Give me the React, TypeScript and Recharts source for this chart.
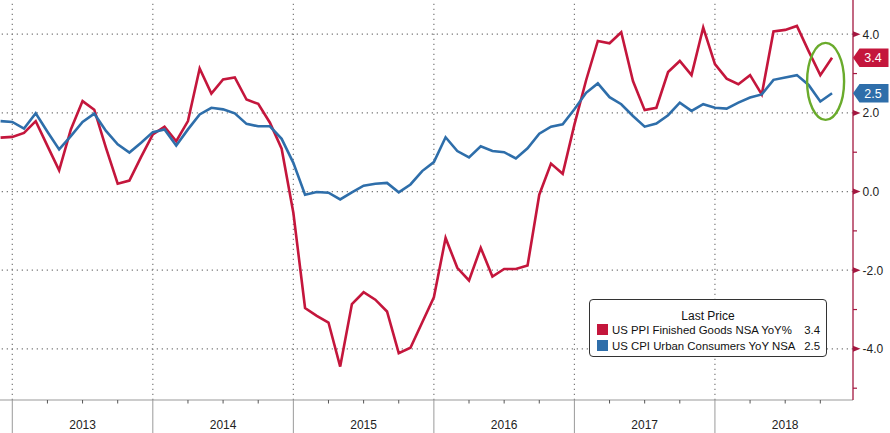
import React from 'react';
import { LineChart, Line, XAxis, YAxis, ReferenceLine, ReferenceDot, Legend } from 'recharts';

// Monthly observations plotted at month end; index 0 = Dec 2012, first point = Nov 2012
const FIRST_MONTH = -1;

const ppiValues = [
  1.37, 1.39, 1.49, 1.79, 1.16, 0.54, 1.58, 2.30, 2.08, 1.11, 0.20, 0.28, 0.88,
  1.45, 1.65, 1.28, 1.79, 3.13, 2.49, 2.85, 2.90, 2.34, 2.23, 1.75, 1.09,
  -0.54, -2.96, -3.16, -3.33, -4.45, -2.86, -2.56, -2.75, -3.05, -4.11, -3.97, -3.33,
  -2.69, -1.18, -1.94, -2.26, -1.43, -2.16, -1.97, -1.97, -1.88, -0.08, 0.71, 0.45,
  1.70, 2.83, 3.83, 3.77, 4.05, 2.81, 2.07, 2.13, 3.04, 3.32, 2.96, 4.17,
  3.24, 2.87, 2.73, 2.96, 2.47, 4.07, 4.11, 4.21, 3.57, 2.96, 3.40,
];

const cpiValues = [
  1.79, 1.77, 1.60, 1.99, 1.52, 1.07, 1.41, 1.77, 1.98, 1.54, 1.20, 0.99, 1.24,
  1.51, 1.58, 1.17, 1.58, 1.96, 2.13, 2.09, 1.99, 1.72, 1.66, 1.66, 1.34,
  0.73, -0.08, -0.01, -0.03, -0.20, -0.02, 0.15, 0.20, 0.22, -0.02, 0.18, 0.52,
  0.75, 1.38, 1.03, 0.87, 1.15, 1.03, 1.00, 0.84, 1.10, 1.47, 1.65, 1.71,
  2.09, 2.51, 2.75, 2.40, 2.22, 1.92, 1.65, 1.73, 1.94, 2.26, 2.05, 2.22,
  2.13, 2.11, 2.26, 2.39, 2.47, 2.84, 2.90, 2.96, 2.71, 2.29, 2.50,
];

const seriesNames = ['US PPI Finished Goods NSA YoY%', 'US CPI Urban Consumers YoY NSA'];
const lastPrices = [3.4, 2.5];
const yearLabels = ['2013', '2014', '2015', '2016', '2017', '2018'];
const quarterTicks = [0, 3, 6, 9, 12, 15, 18, 21, 24, 27, 30, 33, 36, 39, 42, 45, 48, 51, 54, 57, 60, 63, 66, 69];
const yearStarts = [0, 12, 24, 36, 48, 60];
const yTicks = [-5, -4, -3, -2, -1, 0, 1, 2, 3, 4];
const yGrid = [-4, -2, 0, 2, 4];

const X_DOMAIN: [number, number] = [-1.05, 71.79];
const Y_DOMAIN: [number, number] = [-5.3, 4.87];

const RED = '#c4163c';
const BLUE = '#2e6eaa';
const AXIS_RED = '#a3173f';
const GREEN = '#6aab2c';
const FONT = '"Liberation Sans", Arial, sans-serif';

const data = ppiValues.map((v, i) => ({ m: FIRST_MONTH + i, ppi: v, cpi: cpiValues[i] }));

const XTick = (props: any) => {
  const { x, y, payload } = props;
  const m = payload.value as number;
  if (m % 12 === 0) {
    return <line x1={x} y1={y} x2={x} y2={y + 33} stroke="#9a9a9a" strokeWidth={1} />;
  }
  return (
    <g>
      <line x1={x} y1={y} x2={x} y2={y + 3.5} stroke="#555" strokeWidth={1} />
      {m % 12 === 6 && (
        <text x={x} y={y + 29} textAnchor="middle" fontFamily={FONT} fontSize={12} fill="#222">
          {yearLabels[(m - 6) / 12]}
        </text>
      )}
    </g>
  );
};

const YTick = (props: any) => {
  const { x, y, payload } = props;
  const v = payload.value as number;
  if (v % 2 !== 0) {
    return <line x1={x} y1={y} x2={x + 4} y2={y} stroke={AXIS_RED} strokeWidth={1.2} />;
  }
  return (
    <g>
      <polygon points={`${x},${y - 3} ${x + 7.5},${y} ${x},${y + 3}`} fill={AXIS_RED} />
      <text x={x + 9.5} y={y + 4.3} fontFamily={FONT} fontSize={12} fill="#222">
        {v.toFixed(1)}
      </text>
    </g>
  );
};

const makeFlag = (color: string, label: string) => (props: any) => {
  const { cx, cy } = props;
  const h = 9.3;
  return (
    <g>
      <polygon
        points={`${cx},${cy} ${cx + 6.5},${cy - h} ${cx + 35.5},${cy - h} ${cx + 35.5},${cy + h} ${cx + 6.5},${cy + h}`}
        fill={color}
      />
      <text x={cx + 20} y={cy + 4.5} textAnchor="middle" fontFamily={FONT} fontSize={12.5} fill="#fff">
        {label}
      </text>
    </g>
  );
};

const EllipseShape = (props: any) => {
  const { cx, cy } = props;
  return <ellipse cx={cx} cy={cy} rx={18.5} ry={38.5} fill="none" stroke={GREEN} strokeWidth={2.4} />;
};

const LegendBox = () => {
  const colors = [RED, BLUE];
  return (
    <div
      style={{
        position: 'relative',
        width: 238,
        height: 58,
        boxSizing: 'border-box',
        border: '1px solid #333',
        borderRadius: 4,
        background: '#fff',
        fontFamily: FONT,
        fontSize: 11.4,
        color: '#111',
      }}
    >
      <div style={{ position: 'absolute', top: 9, left: 0, width: '100%', textAlign: 'center', fontSize: 12 }}>
        Last Price
      </div>
      {seriesNames.map((name, i) => (
        <div key={name} style={{ position: 'absolute', left: 0, top: 23 + i * 16, width: '100%', height: 14 }}>
          <div style={{ position: 'absolute', left: 7, top: 1, width: 11, height: 11, background: colors[i] }} />
          <div style={{ position: 'absolute', left: 22, top: 0, lineHeight: '14px', whiteSpace: 'nowrap' }}>{name}</div>
          <div style={{ position: 'absolute', right: 6, top: 0, lineHeight: '14px' }}>{lastPrices[i].toFixed(1)}</div>
        </div>
      ))}
    </div>
  );
};

export default function App() {
  return (
    <div style={{ position: 'absolute', left: 0, top: 0, width: 890, height: 433, background: '#fff' }}>
      <LineChart width={890} height={433} data={data} margin={{ top: 0, right: 0, bottom: 0, left: 0 }}>
        <XAxis
          dataKey="m"
          type="number"
          domain={X_DOMAIN}
          allowDataOverflow
          ticks={quarterTicks}
          interval={0}
          height={33}
          tickSize={0}
          tickMargin={0}
          tickLine={false}
          axisLine={{ stroke: '#999', strokeWidth: 1 }}
          tick={<XTick />}
        />
        <YAxis
          orientation="right"
          type="number"
          domain={Y_DOMAIN}
          allowDataOverflow
          ticks={yTicks}
          interval={0}
          width={37}
          tickSize={0}
          tickMargin={0}
          tickLine={false}
          axisLine={{ stroke: AXIS_RED, strokeWidth: 1.3 }}
          tick={<YTick />}
        />
        {yGrid.map((v) => (
          <ReferenceLine key={`h${v}`} y={v} stroke="#7a7a7a" strokeWidth={1.2} strokeDasharray="1.3 3.7" />
        ))}
        {yearStarts.map((v) => (
          <ReferenceLine key={`v${v}`} x={v} stroke="#7a7a7a" strokeWidth={1.2} strokeDasharray="1.3 3.7" />
        ))}
        <Line type="linear" dataKey="ppi" stroke={RED} strokeWidth={2.6} dot={false} activeDot={false} legendType="none" isAnimationActive={false} />
        <Line type="linear" dataKey="cpi" stroke={BLUE} strokeWidth={2.6} dot={false} activeDot={false} legendType="none" isAnimationActive={false} />
        <ReferenceDot x={69.45} y={2.8} ifOverflow="visible" shape={<EllipseShape />} />
        <ReferenceDot x={X_DOMAIN[1]} y={lastPrices[0]} ifOverflow="visible" shape={makeFlag(RED, lastPrices[0].toFixed(1))} />
        <ReferenceDot x={X_DOMAIN[1]} y={lastPrices[1]} ifOverflow="visible" shape={makeFlag(BLUE, lastPrices[1].toFixed(1))} />
        <Legend
          layout="horizontal"
          verticalAlign="middle"
          align="center"
          content={<LegendBox />}
          wrapperStyle={{ position: 'absolute', left: 589, top: 299, width: 238, height: 58 }}
        />
      </LineChart>
    </div>
  );
}
